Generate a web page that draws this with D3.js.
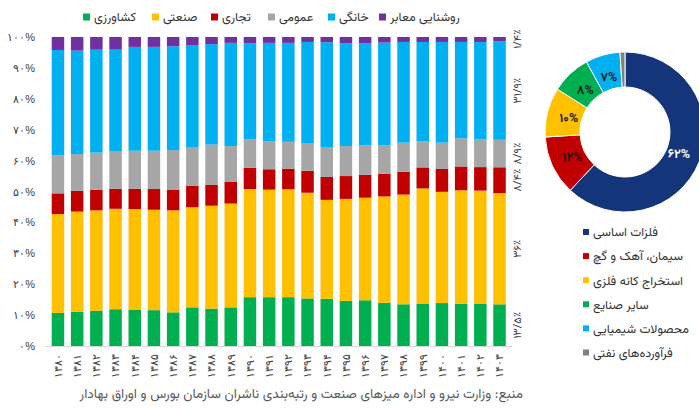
<!DOCTYPE html>
<html>
<head>
<meta charset="utf-8">
<script src="https://cdn.jsdelivr.net/npm/d3@7"></script>
<style>
  html, body { margin: 0; padding: 0; background: #fff; }
  svg { display: block; font-family: "Vazirmatn", "Noto Sans Arabic", "DejaVu Sans", sans-serif; }
</style>
</head>
<body>
<svg id="chart" width="699" height="410"></svg>
<script>
// Electricity consumption share by sector, 1380–1403 (percent)
const years = ["۱۳۸۰","۱۳۸۱","۱۳۸۲","۱۳۸۳","۱۳۸۴","۱۳۸۵","۱۳۸۶","۱۳۸۷","۱۳۸۸","۱۳۸۹","۱۳۹۰","۱۳۹۱",
               "۱۳۹۲","۱۳۹۳","۱۳۹۴","۱۳۹۵","۱۳۹۶","۱۳۹۷","۱۳۹۸","۱۳۹۹","۱۴۰۰","۱۴۰۱","۱۴۰۲","۱۴۰۳"];
const agriculture   = [10.7,11.1,11.4,11.9,11.8,11.6,10.9,12.5,12.1,12.5,15.8,15.8,15.8,15.4,15.3,14.6,14.8,14.0,13.5,13.6,13.9,13.7,13.6,13.5];
const industrial    = [32.0,32.4,32.5,32.5,32.5,32.5,33.0,32.4,33.3,33.6,35.0,34.8,34.9,34.2,32.0,33.0,33.2,34.4,35.5,37.4,36.0,36.7,36.7,36.0];
const commercial    = [6.7,6.7,6.7,6.5,6.6,6.7,6.6,6.9,6.7,7.0,6.9,6.6,6.7,7.1,7.4,7.4,7.4,7.3,7.4,6.8,7.4,7.7,7.6,8.4];
const publicUse     = [12.3,11.9,12.0,12.0,12.3,12.4,12.9,12.6,13.1,11.6,9.2,9.1,8.7,9.0,9.7,9.7,9.6,9.3,9.4,8.5,8.5,9.1,9.1,8.9];
const residential   = [34.1,33.5,33.3,33.0,33.6,33.6,33.6,33.0,32.5,33.4,31.1,31.8,32.0,32.7,33.9,33.3,33.0,33.2,32.6,32.1,32.6,31.2,31.4,31.9];
const streetLights  = [4.2,4.4,4.1,4.1,3.2,3.2,3.0,2.6,2.3,1.9,2.0,1.9,1.9,1.6,1.7,2.0,2.0,1.8,1.6,1.6,1.6,1.6,1.6,1.4];

const sectorNames  = ["کشاورزی","صنعتی","تجاری","عمومی","خانگی","روشنایی معابر"];
const sectorColors = ["#00b050","#ffc000","#c00000","#a6a6a6","#00b0f0","#7030a0"];
const lastYearLabels = ["۱۳/۵٪","۳۶٪","۸/۴٪","۸/۹٪","۳۱/۹٪","۱/۴٪"];

const yTickValues = [0,10,20,30,40,50,60,70,80,90,100];
const yTickLabels = ["۰%","۱۰%","۲۰%","۳۰%","۴۰%","۵۰%","۶۰%","۷۰%","۸۰%","۹۰%","۱۰۰%"];

// Industrial electricity use by branch (donut)
const branchNames  = ["فلزات اساسی","سیمان، آهک و گچ","استخراج کانه فلزی","سایر صنایع","محصولات شیمیایی","فرآورده‌های نفتی"];
const branchValues = [62,12,10,8,7,1];
const branchLabels = ["۶۲%","۱۲%","۱۰%","۸%","۷%",""];
const branchColors = ["#14357a","#c00000","#ffc000","#00b050","#00b0f0","#808080"];

const sourceText = "منبع: وزارت نیرو و اداره میزهای صنعت و رتبه‌بندی ناشران سازمان بورس و اوراق بهادار";

const svg = d3.select("#chart");
const series = [agriculture, industrial, commercial, publicUse, residential, streetLights];
const rows = years.map((y, i) => {
  const r = { year: y };
  sectorNames.forEach((n, k) => r[n] = series[k][i]);
  return r;
});
const stacked = d3.stack().keys(sectorNames).offset(d3.stackOffsetExpand)(rows);

const x = d3.scaleBand().domain(years).range([45, 512.5]).paddingInner(0.35).paddingOuter(0.35);
const y = d3.scaleLinear().domain([0, 1]).range([346, 37]);

// baseline
svg.append("line").attr("x1", 45).attr("x2", 512).attr("y1", 346.5).attr("y2", 346.5)
  .attr("stroke", "#d9d9d9").attr("stroke-width", 1);

// stacked bars
svg.append("g").selectAll("g").data(stacked).join("g")
  .attr("fill", (d, i) => sectorColors[i])
  .selectAll("rect").data(d => d).join("rect")
  .attr("x", d => x(d.data.year))
  .attr("width", x.bandwidth())
  .attr("y", d => y(d[1]))
  .attr("height", d => y(d[0]) - y(d[1]));

// y axis labels
const yAxis = d3.axisLeft(y.copy().domain([0, 100])).tickValues(yTickValues)
  .tickFormat((d, i) => yTickLabels[i]).tickSize(0).tickPadding(0);
svg.append("g").attr("transform", "translate(35,0)").call(yAxis)
  .call(g => g.select(".domain").remove())
  .selectAll("text").attr("font-size", 11).attr("fill", "#404040").attr("font-family", null);

// x axis labels (rotated)
const xAxis = d3.axisBottom(x).tickSize(0).tickPadding(0);
svg.append("g").attr("transform", "translate(0,354)").call(xAxis)
  .call(g => g.select(".domain").remove())
  .selectAll("text")
  .attr("font-size", 11).attr("fill", "#404040").attr("font-family", null)
  .attr("transform", "rotate(-90)")
  .attr("text-anchor", "end")
  .attr("x", 0).attr("y", 0).attr("dy", "0.35em");

// shares of the final year, beside the last bar
const lastCol = stacked.map(s => s[s.length - 1]);
const lastX = x(years[years.length - 1]) + x.bandwidth() + 11;
svg.append("g").selectAll("text").data(lastCol).join("text")
  .attr("transform", d => `translate(${lastX},${y((d[0] + d[1]) / 2)}) rotate(-90)`)
  .attr("text-anchor", "middle").attr("dy", "0.35em")
  .attr("font-size", 11).attr("fill", "#404040")
  .text((d, i) => lastYearLabels[i]);

// top legend
const legendX = [83, 152, 211, 268, 328, 379];
const legend = svg.append("g").selectAll("g").data(sectorNames).join("g")
  .attr("transform", (d, i) => `translate(${legendX[i]},17)`);
legend.append("rect").attr("x", 0).attr("y", -3.5).attr("width", 7).attr("height", 7)
  .attr("fill", (d, i) => sectorColors[i]);
legend.append("text").attr("x", 11).attr("dy", "0.35em")
  .attr("font-size", 12.5).attr("fill", "#333").text(d => d);

// donut
const cx = 625, cy = 132, rOuter = 80, rInner = 45;
const pie = d3.pie().sort(null).value(d => d)(branchValues);
const arc = d3.arc().innerRadius(rInner).outerRadius(rOuter);
const labelArc = d3.arc().innerRadius(58).outerRadius(58);
const donut = svg.append("g").attr("transform", `translate(${cx},${cy})`);
donut.selectAll("path").data(pie).join("path")
  .attr("d", arc).attr("fill", (d, i) => branchColors[i])
  .attr("stroke", "#fff").attr("stroke-width", 1);
donut.selectAll("text").data(pie).join("text")
  .attr("transform", (d, i) => {
    const c = labelArc.centroid(d);
    return `translate(${c[0]},${c[1]})`;
  })
  .attr("text-anchor", "middle").attr("dy", "0.35em")
  .attr("font-size", 12.5).attr("font-weight", "bold")
  .attr("fill", (d, i) => i === 0 ? "#fff" : "#1a1a1a")
  .text((d, i) => branchLabels[i]);

// donut legend
const pl = svg.append("g").selectAll("g").data(branchNames).join("g")
  .attr("transform", (d, i) => `translate(583,${232 + i * 24.1})`);
pl.append("rect").attr("x", 0).attr("y", -3).attr("width", 6).attr("height", 6)
  .attr("fill", (d, i) => branchColors[i]);
pl.append("text").attr("x", 10).attr("dy", "0.35em")
  .attr("font-size", 12.5).attr("fill", "#333").text(d => d);

// source note, right-aligned
svg.append("text").attr("x", 523).attr("y", 398).attr("text-anchor", "start")
  .attr("direction", "rtl").attr("font-size", 13.5).attr("fill", "#595959")
  .text(sourceText);
</script>
</body>
</html>
